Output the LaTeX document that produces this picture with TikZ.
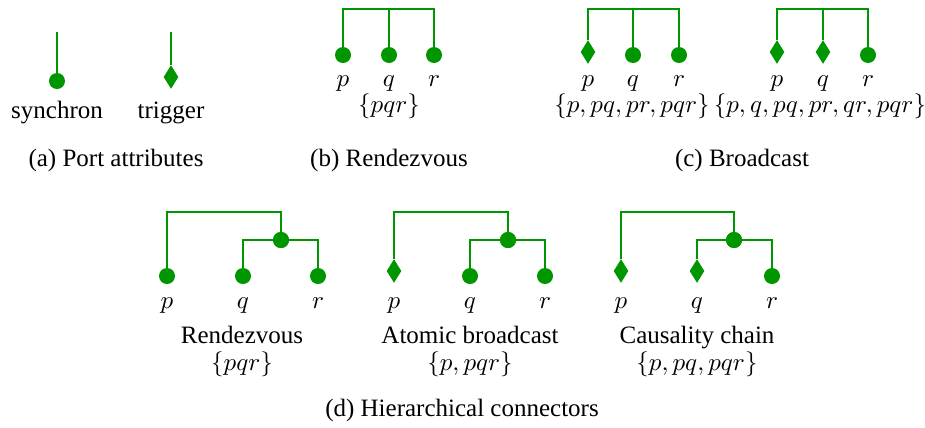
\documentclass[tikz,border=0pt]{standalone}
\usepackage{fontspec}
\setmainfont{Liberation Serif}
\usetikzlibrary{shapes.geometric}
\definecolor{wire}{RGB}{0,150,0}
\begin{document}
\begin{tikzpicture}[x=0.4pt,y=-0.4pt,
  wirestyle/.style={draw=wire,line width=0.8pt},
  sync/.style={circle,fill=wire,inner sep=0pt,minimum size=6.4pt},
  trig/.style={diamond,fill=wire,inner sep=0pt,minimum width=6pt,minimum height=9.6pt},
  lbl/.style={anchor=base,inner sep=0pt,font=\fontsize{10}{12}\selectfont}]
\useasboundingbox (0,0) rectangle (925,427);
% (a)
\node[sync] (as) at (57,81) {};
\node[trig] (at) at (171,77) {};
\coordinate (ast) at (57,32);
\coordinate (att) at (171,32);
\draw[wirestyle] (ast) -- (as);
\draw[wirestyle] (att) -- (at);
\node[lbl] (asl) at (57,118) {synchron};
\node[lbl] (atl) at (171,118) {trigger};
\node[lbl] (cap-a) at (116,166) {(a) Port attributes};
% (b)
\node[sync] (bp) at (343,55) {};
\node[sync] (bq) at (389,55) {};
\node[sync] (br) at (434,55) {};
\coordinate (btop) at (389,9);
\draw[wirestyle] (bp) |- (btop) -| (br);
\draw[wirestyle] (bq) -- (btop);
\node[lbl] at (343,86) {$p$};
\node[lbl] at (389,86) {$q$};
\node[lbl] at (434,86) {$r$};
\node[lbl] at (389,112) {$\{pqr\}$};
\node[lbl] (cap-b) at (389,166) {(b) Rendezvous};
% (c) first
\node[trig] (cp) at (588,52) {};
\node[sync] (cq) at (633,55) {};
\node[sync] (cr) at (679,55) {};
\coordinate (ctop) at (633,9);
\draw[wirestyle] (cp) |- (ctop) -| (cr);
\draw[wirestyle] (cq) -- (ctop);
\node[lbl] at (588,86) {$p$};
\node[lbl] at (633,86) {$q$};
\node[lbl] at (679,86) {$r$};
\node[lbl] at (632,112) {$\{p,pq,pr,pqr\}$};
% (c) second
\node[trig] (dp) at (777,52) {};
\node[trig] (dq) at (823,52) {};
\node[sync] (dr) at (868,55) {};
\coordinate (dtop) at (823,9);
\draw[wirestyle] (dp) |- (dtop) -| (dr);
\draw[wirestyle] (dq) -- (dtop);
\node[lbl] at (777,86) {$p$};
\node[lbl] at (823,86) {$q$};
\node[lbl] at (868,86) {$r$};
\node[lbl] at (820,112) {$\{p,q,pq,pr,qr,pqr\}$};
\node[lbl] (cap-c) at (742,166) {(c) Broadcast};
% (d) first
\node[sync] (ep) at (167,276) {};
\node[sync] (eq) at (243,276) {};
\node[sync] (er) at (318,276) {};
\node[sync] (em) at (281,240) {};
\coordinate (etop) at (281,212);
\draw[wirestyle] (ep) |- (etop) -- (em);
\draw[wirestyle] (eq) |- (em.center) -| (er);
\node[sync] at (em) {};
\node[lbl] at (167,308) {$p$};
\node[lbl] at (243,308) {$q$};
\node[lbl] at (318,308) {$r$};
\node[lbl] at (242,343) {Rendezvous};
\node[lbl] at (242,370) {$\{pqr\}$};
% (d) second
\node[trig] (fp) at (394,271) {};
\node[sync] (fq) at (470,276) {};
\node[sync] (fr) at (545,276) {};
\node[sync] (fm) at (508,240) {};
\coordinate (ftop) at (508,212);
\draw[wirestyle] (fp) |- (ftop) -- (fm);
\draw[wirestyle] (fq) |- (fm.center) -| (fr);
\node[sync] at (fm) {};
\node[lbl] at (394,308) {$p$};
\node[lbl] at (470,308) {$q$};
\node[lbl] at (545,308) {$r$};
\node[lbl] at (470,343) {Atomic broadcast};
\node[lbl] at (470,370) {$\{p,pqr\}$};
% (d) third
\node[trig] (gp) at (621,271) {};
\node[trig] (gq) at (697,271) {};
\node[sync] (gr) at (772,276) {};
\node[sync] (gm) at (734,240) {};
\coordinate (gtop) at (734,212);
\draw[wirestyle] (gp) |- (gtop) -- (gm);
\draw[wirestyle] (gq) |- (gm.center) -| (gr);
\node[sync] at (gm) {};
\node[lbl] at (621,308) {$p$};
\node[lbl] at (697,308) {$q$};
\node[lbl] at (772,308) {$r$};
\node[lbl] at (697,343) {Causality chain};
\node[lbl] at (697,370) {$\{p,pq,pqr\}$};
\node[lbl] (cap-d) at (462,416) {(d) Hierarchical connectors};
\end{tikzpicture}
\end{document}
